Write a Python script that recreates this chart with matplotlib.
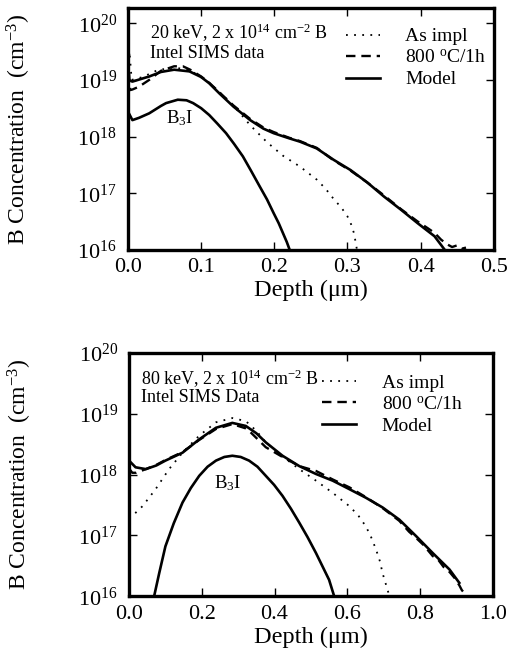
import numpy as np
import matplotlib
matplotlib.use("Agg")
import matplotlib.pyplot as plt
from matplotlib.ticker import LogLocator, NullLocator, MultipleLocator

plt.rcParams["font.family"] = ["Liberation Serif", "DejaVu Serif"]
plt.rcParams["mathtext.fontset"] = "custom"
plt.rcParams["mathtext.rm"] = "Liberation Serif"
plt.rcParams["mathtext.it"] = "Liberation Serif:italic"
plt.rcParams["mathtext.bf"] = "Liberation Serif:bold"

# ---- 20 keV panel (log10 of concentration) ----
top_model_x = [0.0, 0.006, 0.029, 0.045, 0.063, 0.084, 0.100, 0.111, 0.125, 0.144, 0.167, 0.185,
               0.199, 0.220, 0.235, 0.258, 0.281, 0.304, 0.327, 0.350, 0.373, 0.396, 0.419, 0.433]
top_model_v = [19.0, 18.97, 19.06, 19.14, 19.18, 19.15, 19.05, 18.94, 18.76, 18.53, 18.29, 18.14,
               18.06, 17.97, 17.91, 17.79, 17.59, 17.41, 17.19, 16.94, 16.71, 16.47, 16.24, 16.0]

top_b3i_x = [0.0, 0.006, 0.015, 0.029, 0.045, 0.052, 0.068, 0.080, 0.089, 0.100, 0.111, 0.122,
             0.134, 0.145, 0.157, 0.168, 0.180, 0.190, 0.199, 0.206, 0.212, 0.217, 0.221]
top_b3i_v = [18.44, 18.29, 18.33, 18.41, 18.54, 18.59, 18.65, 18.64, 18.59, 18.50, 18.38, 18.23,
             18.06, 17.87, 17.65, 17.40, 17.12, 16.89, 16.65, 16.47, 16.29, 16.14, 16.0]

top_impl_x = [0.0, 0.002, 0.005, 0.02, 0.04, 0.063, 0.085, 0.11, 0.13, 0.15, 0.167, 0.19,
              0.212, 0.235, 0.258, 0.270, 0.281, 0.292, 0.300, 0.305, 0.309, 0.313]
top_impl_v = [19.0, 19.5, 19.0, 19.05, 19.17, 19.22, 19.17, 18.96, 18.72, 18.46, 18.20, 17.90,
              17.66, 17.47, 17.24, 17.08, 16.90, 16.74, 16.59, 16.45, 16.29, 16.0]

top_anneal_x = [0.0, 0.003, 0.006, 0.015, 0.029, 0.045, 0.063, 0.075, 0.085, 0.100, 0.111, 0.125,
                0.144, 0.167, 0.185, 0.199, 0.220, 0.235, 0.258, 0.281, 0.304, 0.327, 0.350, 0.373,
                0.396, 0.410, 0.419, 0.428, 0.436, 0.443, 0.450, 0.456, 0.462]
top_anneal_v = [19.4, 18.82, 18.83, 18.88, 19.0, 19.16, 19.24, 19.24, 19.18, 19.06, 18.95, 18.78,
                18.55, 18.31, 18.16, 18.08, 17.98, 17.92, 17.80, 17.58, 17.40, 17.19, 16.96, 16.72,
                16.50, 16.38, 16.30, 16.18, 16.10, 16.05, 16.08, 16.02, 16.04]

# ---- 80 keV panel ----
bot_model_x = [0.0, 0.018, 0.046, 0.075, 0.100, 0.147, 0.193, 0.239, 0.284, 0.321, 0.350, 0.376,
               0.422, 0.468, 0.514, 0.560, 0.606, 0.651, 0.697, 0.743, 0.789, 0.835, 0.881, 0.908]
bot_model_v = [18.23, 18.12, 18.09, 18.15, 18.23, 18.36, 18.58, 18.77, 18.85, 18.80, 18.68, 18.53,
               18.31, 18.14, 18.01, 17.90, 17.76, 17.62, 17.46, 17.26, 16.99, 16.71, 16.44, 16.22]

bot_b3i_x = [0.069, 0.083, 0.100, 0.123, 0.147, 0.170, 0.193, 0.216, 0.239, 0.262, 0.284, 0.307,
             0.330, 0.353, 0.376, 0.399, 0.422, 0.445, 0.468, 0.491, 0.514, 0.532, 0.550, 0.564]
bot_b3i_v = [16.0, 16.38, 16.82, 17.20, 17.54, 17.78, 17.98, 18.13, 18.23, 18.29, 18.31, 18.29,
             18.23, 18.13, 17.98, 17.83, 17.65, 17.44, 17.21, 16.97, 16.71, 16.49, 16.27, 16.0]

bot_impl_x = [0.0, 0.009, 0.037, 0.073, 0.110, 0.147, 0.193, 0.239, 0.284, 0.321, 0.350, 0.376,
              0.422, 0.468, 0.514, 0.560, 0.606, 0.630, 0.651, 0.665, 0.679, 0.690, 0.697, 0.707, 0.716]
bot_impl_v = [17.28, 17.32, 17.48, 17.76, 18.09, 18.36, 18.64, 18.86, 18.93, 18.88, 18.72, 18.53,
              18.30, 18.09, 17.90, 17.70, 17.48, 17.33, 17.15, 16.98, 16.77, 16.57, 16.38, 16.18, 16.0]

bot_anneal_x = [0.0, 0.009, 0.020, 0.046, 0.075, 0.100, 0.147, 0.193, 0.239, 0.284, 0.321, 0.330,
                0.376, 0.422, 0.468, 0.514, 0.560, 0.606, 0.651, 0.697, 0.743, 0.770, 0.789, 0.810,
                0.835, 0.850, 0.865, 0.881, 0.895, 0.908, 0.915, 0.922, 0.930]
bot_anneal_v = [18.10, 18.03, 18.03, 18.09, 18.16, 18.24, 18.37, 18.57, 18.75, 18.83, 18.76, 18.72,
                18.45, 18.29, 18.14, 18.06, 17.92, 17.79, 17.63, 17.45, 17.24, 17.06, 16.96, 16.84,
                16.66, 16.60, 16.48, 16.40, 16.30, 16.18, 16.10, 16.05, 16.02]

legend_labels = ["As impl", "800 $^{\\mathrm{o}}$C/1h", "Model"]


def draw_panel(ax, impl, anneal, model, b3i, xmax, ytop, title_lines, title_pos, b3i_pos, leg_anchor):
    ax.plot(impl[0], 10 ** np.array(impl[1]), color="black", lw=1.3, ls=(0, (1, 3.5)), label=legend_labels[0])
    ax.plot(anneal[0], 10 ** np.array(anneal[1]), color="black", lw=1.7, ls=(0, (4, 2.5)), label=legend_labels[1])
    ax.plot(model[0], 10 ** np.array(model[1]), color="black", lw=1.9, label=legend_labels[2])
    ax.plot(b3i[0], 10 ** np.array(b3i[1]), color="black", lw=1.9)

    ax.set_yscale("log")
    ax.set_xlim(0, xmax)
    ax.set_ylim(1e16, ytop)
    ax.yaxis.set_major_locator(LogLocator(base=10, numticks=10))
    ax.yaxis.set_minor_locator(NullLocator())
    ax.xaxis.set_major_locator(MultipleLocator(xmax / 5))
    ax.xaxis.set_major_formatter(plt.FormatStrFormatter("%.1f"))
    ax.tick_params(which="both", direction="in", top=True, right=True, length=6, width=1.0,
                   labelsize=16, pad=6)
    ax.tick_params(axis="y", pad=8)
    for s in ax.spines.values():
        s.set_linewidth(2.4)

    ax.set_xlabel("Depth (μm)", fontsize=17.5, labelpad=2)
    ax.set_ylabel("B Concentration  (cm$^{-3}$)", fontsize=17)
    ax.yaxis.set_label_coords(-0.26, 0.5)

    ax.text(title_pos[0], title_pos[1], title_lines[0], transform=ax.transAxes, fontsize=13, va="center")
    ax.text(title_pos[0], title_pos[2], title_lines[1], transform=ax.transAxes, fontsize=13, va="center")
    ax.text(b3i_pos[0], b3i_pos[1], "B$_3$I", transform=ax.transAxes, fontsize=13.5, ha="center", va="center")

    ax.legend(loc="upper left", bbox_to_anchor=leg_anchor, frameon=False, fontsize=14,
              handlelength=1.75, handletextpad=1.3, labelspacing=0.2, borderaxespad=0)


fig = plt.figure(figsize=(5.08, 6.61), dpi=100)
ax1 = fig.add_axes([0.252, 0.622, 0.72, 0.366])
ax2 = fig.add_axes([0.254, 0.098, 0.716, 0.368])

draw_panel(ax1, (top_impl_x, top_impl_v), (top_anneal_x, top_anneal_v),
           (top_model_x, top_model_v), (top_b3i_x, top_b3i_v), 0.5, 10 ** 20.27,
           ["20 keV, 2 x 10$^{14}$ cm$^{-2}$ B", "Intel SIMS data"], (0.06, 0.895, 0.81),
           (0.14, 0.545), (0.575, 0.95))
draw_panel(ax2, (bot_impl_x, bot_impl_v), (bot_anneal_x, bot_anneal_v),
           (bot_model_x, bot_model_v), (bot_b3i_x, bot_b3i_v), 1.0, 1e20,
           ["80 keV, 2 x 10$^{14}$ cm$^{-2}$ B", "Intel SIMS Data"], (0.033, 0.895, 0.815),
           (0.27, 0.465), (0.51, 0.945))

fig.savefig("out.png", dpi=100)
